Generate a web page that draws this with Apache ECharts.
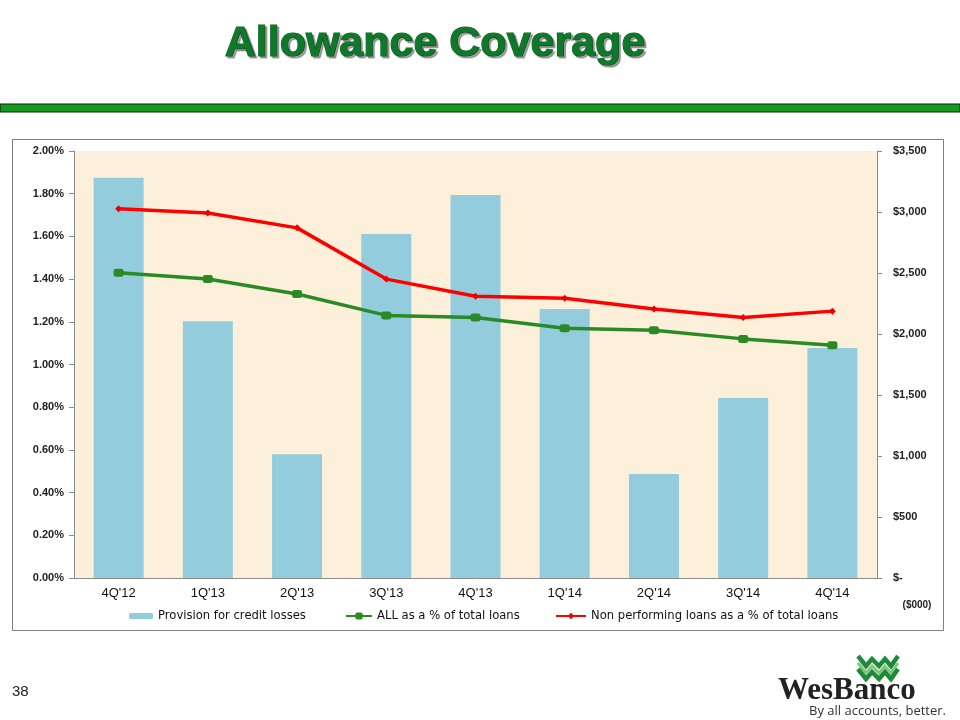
<!DOCTYPE html>
<html>
<head>
<meta charset="utf-8">
<script src="https://cdn.jsdelivr.net/npm/echarts@6/dist/echarts.min.js"></script>
<style>html,body{margin:0;padding:0;background:#fff;}#c{width:960px;height:720px;}</style>
</head>
<body>
<div id="c"></div>
<script>
var categories = ["4Q'12","1Q'13","2Q'13","3Q'13","4Q'13","1Q'14","2Q'14","3Q'14","4Q'14"];
var provision = [3280, 2105, 1015, 2820, 3140, 2205, 852, 1475, 1885];
var allPct = [1.43, 1.40, 1.33, 1.23, 1.22, 1.17, 1.16, 1.12, 1.09];
var nplPct = [1.73, 1.71, 1.64, 1.40, 1.32, 1.31, 1.26, 1.22, 1.25];
var leftTicks = {min: 0, max: 2, interval: 0.2};
var rightTicks = {min: 0, max: 3500, interval: 500};

var chart = echarts.init(document.getElementById('c'), null, {renderer: 'canvas'});
var legendFont = {fontSize: 11.6, fontFamily: '"DejaVu Sans", Arial, sans-serif', color: '#111'};

function zig(y, color, w) {
  return {type: 'polyline', shape: {points: [[858, y - 6], [866, y + 4], [872, y - 3], [879, y + 4], [885, y - 3], [891, y + 4], [898, y - 6]]},
    style: {stroke: color, lineWidth: w, fill: null, lineJoin: 'miter'}};
}

var option = {
  animation: false,
  backgroundColor: '#ffffff',
  grid: {left: 74, right: 83, top: 151, bottom: 142, show: true, backgroundColor: '#fcf0db', borderWidth: 0},
  legend: [
    {data: ['Provision for credit losses'], left: 129, top: 610, itemWidth: 24, itemHeight: 6, textStyle: legendFont, padding: 0},
    {data: ['ALL as a % of total loans'], left: 345, top: 610, itemWidth: 26, itemHeight: 9, textStyle: legendFont, padding: 0},
    {data: ['Non performing loans as a % of total loans'], left: 555, top: 610, itemWidth: 30, itemHeight: 8, textStyle: legendFont, padding: 0}
  ],
  xAxis: {
    type: 'category', data: categories,
    axisLine: {lineStyle: {color: '#8c8c8c', width: 1}},
    axisTick: {show: false},
    axisLabel: {color: '#111', fontSize: 13, fontFamily: 'Arial, "Liberation Sans", sans-serif', margin: 9}
  },
  yAxis: [
    {
      type: 'value', min: leftTicks.min, max: leftTicks.max, interval: leftTicks.interval, position: 'left',
      splitLine: {show: false},
      axisLine: {show: true, lineStyle: {color: '#8c8c8c'}},
      axisTick: {show: true, length: 5, lineStyle: {color: '#8c8c8c'}},
      axisLabel: {color: '#222', fontSize: 11, fontWeight: 'bold', fontFamily: 'Arial, "Liberation Sans", sans-serif', margin: 10,
        formatter: function (v) { return v.toFixed(2) + '%'; }}
    },
    {
      type: 'value', min: rightTicks.min, max: rightTicks.max, interval: rightTicks.interval, position: 'right',
      splitLine: {show: false},
      axisLine: {show: true, lineStyle: {color: '#8c8c8c'}},
      axisTick: {show: true, length: 5, lineStyle: {color: '#8c8c8c'}},
      axisLabel: {color: '#222', fontSize: 11, fontWeight: 'bold', fontFamily: 'Arial, "Liberation Sans", sans-serif', margin: 16,
        formatter: function (v) { return v === 0 ? '$-' : '$' + v.toLocaleString('en-US'); }}
    }
  ],
  series: [
    {name: 'Provision for credit losses', type: 'bar', yAxisIndex: 1, data: provision, barWidth: 50,
      itemStyle: {color: '#93cddd'}},
    {name: 'ALL as a % of total loans', type: 'line', yAxisIndex: 0, data: allPct,
      symbol: 'roundRect', symbolSize: [10, 8], showAllSymbol: true,
      lineStyle: {color: '#2a8a26', width: 3.5}, itemStyle: {color: '#2a8a26'}},
    {name: 'Non performing loans as a % of total loans', type: 'line', yAxisIndex: 0, data: nplPct,
      symbol: 'diamond', symbolSize: 7, showAllSymbol: true,
      lineStyle: {color: '#ff0000', width: 3.5}, itemStyle: {color: '#ee0000'}}
  ],
  graphic: [
    {type: 'text', style: {text: 'Allowance Coverage', x: 435, y: 44, align: 'center', verticalAlign: 'middle',
      font: 'bold 43px "Liberation Sans", Arial, sans-serif', fill: '#10782a', stroke: '#0c6a22', lineWidth: 1.2,
      textShadowColor: 'rgba(0,0,0,0.35)', textShadowOffsetX: 2, textShadowOffsetY: 2, textShadowBlur: 1}},
    {type: 'rect', shape: {x: 0, y: 104, width: 960, height: 8}, style: {fill: '#139a1f', stroke: '#0a2a0a', lineWidth: 1.2}},
    {type: 'rect', shape: {x: 12.5, y: 139.5, width: 931, height: 491}, style: {fill: 'none', stroke: '#7f7f7f', lineWidth: 1}, z: -1},
    {type: 'text', style: {text: '($000)', x: 917, y: 605, align: 'center', verticalAlign: 'middle', font: 'bold 10px Arial, "Liberation Sans", sans-serif', fill: '#222'}},
    {type: 'text', style: {text: '38', x: 12, y: 692, verticalAlign: 'middle', font: '15px Arial, "Liberation Sans", sans-serif', fill: '#222'}},
    zig(662, '#1f8a3a', 4.5),
    zig(669, '#7cc87c', 3),
    zig(675, '#1f8a3a', 4.5),
    {type: 'text', z: 10, style: {text: 'WesBanco', x: 778, y: 691, verticalAlign: 'middle', font: 'bold 31px "Liberation Serif", "DejaVu Serif", serif', fill: '#222'}},
    {type: 'text', style: {text: 'By all accounts, better.', x: 809, y: 711, verticalAlign: 'middle', font: '13px "Open Sans", "Liberation Sans", sans-serif', fill: '#333'}}
  ]
};
chart.setOption(option);
</script>
</body>
</html>
